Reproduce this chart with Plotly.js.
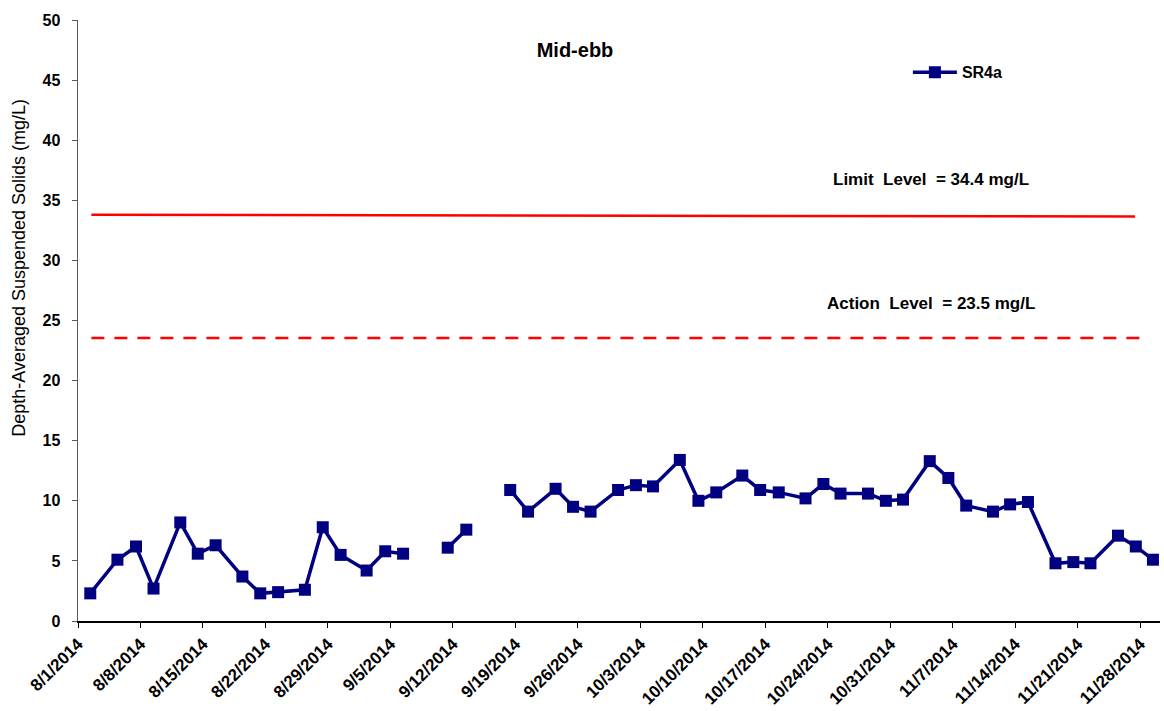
<!DOCTYPE html>
<html>
<head>
<meta charset="utf-8">
<script src="https://cdn.plot.ly/plotly-3.0.1.min.js"></script>
<style>html,body{margin:0;padding:0;background:#fff;}#chart{width:1164px;height:711px;}</style>
</head>
<body>
<div id="chart"></div>
<script>
// Sample dates (null value marks a gap in the record)
const dates = [
  '2014-08-02 09:00','2014-08-05 10:00','2014-08-07 12:00','2014-08-09 11:00','2014-08-12 11:00',
  '2014-08-14 10:00','2014-08-16 10:00','2014-08-19 10:00','2014-08-21 10:00','2014-08-23 10:00',
  '2014-08-26 10:00','2014-08-28 10:00','2014-08-30 10:00','2014-09-02 08:00','2014-09-04 10:00',
  '2014-09-06 10:00','2014-09-09 00:00','2014-09-11 10:00','2014-09-13 12:00','2014-09-16 00:00',
  '2014-09-18 10:00','2014-09-20 10:00','2014-09-23 12:00','2014-09-25 11:00','2014-09-27 10:00',
  '2014-09-30 12:00','2014-10-02 12:00','2014-10-04 10:00','2014-10-07 10:00','2014-10-09 12:00',
  '2014-10-11 12:00','2014-10-14 10:00','2014-10-16 10:00','2014-10-18 12:00','2014-10-21 12:00',
  '2014-10-23 12:00','2014-10-25 10:00','2014-10-28 12:00','2014-10-30 12:00','2014-11-01 10:00',
  '2014-11-04 10:00','2014-11-06 12:00','2014-11-08 12:00','2014-11-11 12:00','2014-11-13 10:00',
  '2014-11-15 10:00','2014-11-18 12:00','2014-11-20 12:00','2014-11-22 10:00','2014-11-25 12:00',
  '2014-11-27 12:00','2014-11-29 10:00'
];
const sr4a = [
  2.3, 5.1, 6.2, 2.7, 8.2,
  5.6, 6.3, 3.7, 2.3, 2.4,
  2.6, 7.8, 5.5, 4.2, 5.8,
  5.6, null, 6.1, 7.6, null,
  10.9, 9.1, 11.0, 9.5, 9.1,
  10.9, 11.3, 11.2, 13.4, 10.0,
  10.7, 12.1, 10.9, 10.7, 10.2,
  11.4, 10.6, 10.6, 10.0, 10.1,
  13.3, 11.9, 9.6, 9.1, 9.7,
  9.9, 4.8, 4.9, 4.8, 7.1,
  6.2, 5.1
];
// Reference levels as drawn
const limitDates = ['2014-08-02 12:00', '2014-11-27 10:00'];
const limitValues = [33.8, 33.65];
const actionDates = ['2014-08-02 12:00', '2014-11-28 00:00'];
const actionValues = [23.55, 23.55];
const limitLabel = 'Limit&nbsp; Level&nbsp; = 34.4 mg/L';
const actionLabel = 'Action&nbsp; Level&nbsp; = 23.5 mg/L';
const yTitle = 'Depth-Averaged Suspended Solids (mg/L)';

const traces = [
  {x: limitDates, y: limitValues, mode: 'lines', showlegend: false, hoverinfo: 'skip',
   line: {color: '#ff0000', width: 2.5}},
  {x: actionDates, y: actionValues, mode: 'lines', showlegend: false, hoverinfo: 'skip',
   line: {color: '#ff0000', width: 2.5, dash: '13px,10px'}},
  {x: dates, y: sr4a, name: 'SR4a', mode: 'lines+markers', connectgaps: false,
   line: {color: '#000080', width: 3.5},
   marker: {symbol: 'square', size: 12, color: '#000080'}}
];

const layout = {
  width: 1164, height: 711,
  margin: {l: 78, r: 4, t: 20, b: 90},
  paper_bgcolor: '#ffffff', plot_bgcolor: '#ffffff',
  font: {family: 'Liberation Sans, Arial, sans-serif', color: '#000'},
  title: {text: '<b>Mid-ebb</b>', x: 0.494, xanchor: 'center', y: 0.93, yanchor: 'middle',
          font: {size: 20, color: '#000'}},
  xaxis: {
    type: 'date', range: ['2014-08-01', '2014-11-30 05:00'],
    tick0: '2014-08-01', dtick: 7 * 86400000, tickformat: '%-m/%-d/%Y',
    tickangle: -45, ticks: 'outside', ticklen: 5, tickcolor: '#000',
    showline: true, linecolor: '#000', linewidth: 1.5, showgrid: false, zeroline: false,
    tickfont: {size: 17, color: '#000', family: 'Liberation Sans, Arial, sans-serif', weight: 'bold'}
  },
  yaxis: {
    range: [0, 50], dtick: 5, ticks: 'outside', ticklen: 5, tickcolor: '#595959',
    ticklabelstandoff: 8,
    showline: true, linecolor: '#595959', linewidth: 1.5, showgrid: false, zeroline: false,
    tickfont: {size: 16, color: '#000', family: 'Liberation Sans, Arial, sans-serif', weight: 'bold'}
  },
  legend: {x: 0.767, y: 0.913, xanchor: 'left', yanchor: 'middle', bgcolor: 'rgba(0,0,0,0)',
           itemwidth: 44, font: {size: 16, color: '#000', weight: 'bold'}},
  annotations: [
    {text: '<b>' + limitLabel + '</b>', xref: 'paper', yref: 'paper', x: 0.788, y: 0.734,
     xanchor: 'center', yanchor: 'middle', showarrow: false, font: {size: 17, color: '#000'}},
    {text: '<b>' + actionLabel + '</b>', xref: 'paper', yref: 'paper', x: 0.788, y: 0.529,
     xanchor: 'center', yanchor: 'middle', showarrow: false, font: {size: 17, color: '#000'}},
    {text: yTitle, xref: 'paper', yref: 'paper', x: -0.054, y: 0.587, textangle: -90,
     xanchor: 'center', yanchor: 'middle', showarrow: false, font: {size: 18, color: '#000'}}
  ],
  showlegend: true
};

Plotly.newPlot('chart', traces, layout, {displayModeBar: false, staticPlot: true});
</script>
</body>
</html>
